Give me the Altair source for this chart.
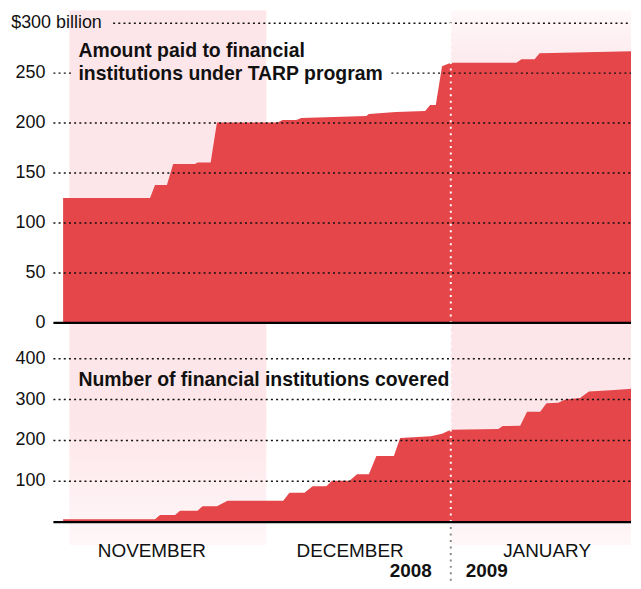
import altair as alt
import pandas as pd

# x values are days since 1 Nov 2008
amount_day = [-1.0, 12.9, 13.7, 15.6, 16.6, 20.1, 20.5, 22.6, 23.6, 33.3,
              34.1, 36.3, 37.1, 47.5, 47.9, 52.2, 56.9, 57.7, 58.6, 59.6,
              61.0, 71.5, 72.3, 74.4, 75.2, 91.1]
amount_bn = [125, 125, 138, 138, 159, 159, 160.5, 160.5, 200.5, 200.5,
             203, 203, 205, 207, 209, 211, 212, 218, 218, 257,
             260.5, 260.5, 264, 264, 270, 272]

count_day = [-1.0, 13.7, 14.5, 16.9, 17.7, 20.5, 21.3, 23.6, 25.3, 34.2,
             35.2, 37.6, 38.9, 41.1, 42.0, 44.8, 46.0, 47.9, 49.1, 51.9,
             52.9, 57.8, 59.6, 61.0, 68.6, 69.3, 72.1, 73.2, 75.3, 76.3,
             78.2, 79.3, 81.7, 82.2, 83.1, 86.6, 91.1]
count_n = [7, 7, 17, 17, 28, 28, 39, 39, 52, 52,
           72, 72, 88, 88, 101, 101, 117, 117, 162, 162,
           206, 210, 216, 226, 228, 235, 236, 270, 270, 291,
           292, 300, 304, 310, 320, 323, 328]

months = ["NOVEMBER", "DECEMBER", "JANUARY"]
month_start = [0, 31.5, 61]
month_end = [31.5, 61, 91.1]
month_label_day = [13.2, 44.9, 76.4]
years = ["2008", "2009"]

top_ticks = [0, 50, 100, 150, 200, 250]
bot_ticks = [100, 200, 300, 400]

FONT = "Liberation Sans"
RED = "#e4464a"
PINK = "#fde6ea"
W, H = 580, 573
XMIN = -2.55
XMAX = XMIN + W / 6.279
TOP_MAX = 313
BOT_MIN = -143.9

xs = alt.Scale(domain=[XMIN, XMAX], nice=False, zero=False)
# one view, two independent y scales (upper: billions, lower: institutions)
top_ys = alt.Scale(domain=[-258.2, TOP_MAX], nice=False, zero=False)
bot_ys = alt.Scale(domain=[BOT_MIN, 1253.65], nice=False, zero=False)
BOT_TOP = 487.8  # value at the top edge of the lower panel

dot = [2, 3.2]
GRID = dict(color="#111", strokeWidth=1.5, strokeDash=dot)


def X(f):
    return alt.X(f, type="quantitative", scale=xs, axis=None)


def Y(f, sc):
    return alt.Y(f, type="quantitative", scale=sc, axis=None)


def grad(stops):
    return alt.Gradient(gradient="linear",
                        stops=[alt.GradientStop(color=c, offset=o) for o, c in stops],
                        x1=0, x2=0, y1=0, y2=1)


def band(x0, x1, y0, y1, fill, sc):
    df = pd.DataFrame({"x0": [x0], "x1": [x1], "y0": [y0], "y1": [y1]})
    return alt.Chart(df).mark_rect(color=fill, clip=True).encode(
        x=X("x0"), x2="x1", y=Y("y0", sc), y2="y1")


def labels(vals, sc):
    df = pd.DataFrame({"x": [XMIN] * len(vals), "y": vals, "t": [str(v) for v in vals]})
    return alt.Chart(df).mark_text(align="right", baseline="middle", dx=-8, font=FONT,
                                   fontSize=18, color="#111").encode(
        x=X("x"), y=Y("y", sc), text="t")


# ---------------- upper panel ----------------
nov_top = band(month_start[0], month_end[0], 0, TOP_MAX, PINK, top_ys)
jan_top = band(month_start[2], month_end[2], 0, TOP_MAX,
               grad([(0, "#fff8f9"), (0.22, PINK), (1, PINK)]), top_ys)

area_top = alt.Chart(pd.DataFrame({"day": amount_day, "v": amount_bn})).mark_area(
    color=RED, interpolate="linear", clip=True).encode(x=X("day"), y=Y("v", top_ys))

tg = pd.DataFrame({
    "y": [50, 100, 150, 200, 250, 250, 300],
    "x0": [XMIN, XMIN, XMIN, XMIN, XMIN, 51.5, 7.0],
    "x1": [XMAX, XMAX, XMAX, XMAX, 0.5, XMAX, XMAX]})
grid_top = alt.Chart(tg).mark_rule(**GRID).encode(x=X("x0"), x2="x1", y=Y("y", top_ys))

vline_top = alt.Chart(pd.DataFrame({"x": [61], "y0": [0], "y1": [TOP_MAX]})).mark_rule(
    color="white", strokeWidth=2, strokeDash=[2, 4.5]).encode(
    x=X("x"), y=Y("y0", top_ys), y2="y1")

base_top = alt.Chart(pd.DataFrame({"x0": [XMIN], "x1": [XMAX], "y": [0]})).mark_rule(
    color="#000", strokeWidth=2.2).encode(x=X("x0"), x2="x1", y=Y("y", top_ys))

lbl300 = alt.Chart(pd.DataFrame({"x": [-9.3], "y": [300], "t": ["$300 billion"]})).mark_text(
    align="left", baseline="middle", font=FONT, fontSize=18, color="#111").encode(
    x=X("x"), y=Y("y", top_ys), text="t")

title_top = alt.Chart(pd.DataFrame({
    "x": [1.45, 1.45], "y": [266, 243.2],
    "t": ["Amount paid to financial", "institutions under TARP program"]})).mark_text(
    align="left", baseline="alphabetic", font=FONT, fontSize=19.5, fontWeight="bold",
    color="#111").encode(x=X("x"), y=Y("y", top_ys), text="t")

# ---------------- lower panel ----------------
band_grad = grad([(0, PINK), (0.45, PINK), (1, "#fff7f8")])
nov_bot = band(month_start[0], month_end[0], -56, BOT_TOP, band_grad, bot_ys)
jan_bot = band(month_start[2], month_end[2], -56, BOT_TOP, band_grad, bot_ys)

area_bot = alt.Chart(pd.DataFrame({"day": count_day, "v": count_n})).mark_area(
    color=RED, interpolate="linear", clip=True).encode(x=X("day"), y=Y("v", bot_ys))

bg = pd.DataFrame({"gy": bot_ticks, "gx0": [XMIN] * 4, "gx1": [XMAX] * 4})
grid_bot = alt.Chart(bg).mark_rule(**GRID).encode(x=X("gx0"), x2="gx1", y=Y("gy", bot_ys))

vline_bot = alt.Chart(pd.DataFrame({"x": [61], "y0": [0], "y1": [BOT_TOP]})).mark_rule(
    color="white", strokeWidth=2, strokeDash=[2, 4.5]).encode(
    x=X("x"), y=Y("y0", bot_ys), y2="y1")
vline_low = alt.Chart(pd.DataFrame({"x": [61], "y0": [BOT_MIN], "y1": [0]})).mark_rule(
    color="#8a8a8a", strokeWidth=2, strokeDash=[2, 4.5]).encode(
    x=X("x"), y=Y("y0", bot_ys), y2="y1")

base_bot = alt.Chart(pd.DataFrame({"x0": [XMIN], "x1": [XMAX], "y": [0]})).mark_rule(
    color="#000", strokeWidth=2.2).encode(x=X("x0"), x2="x1", y=Y("y", bot_ys))

title_bot = alt.Chart(pd.DataFrame({"x": [1.45], "y": [334],
                                    "t": ["Number of financial institutions covered"]})).mark_text(
    align="left", baseline="alphabetic", font=FONT, fontSize=19.5, fontWeight="bold",
    color="#111").encode(x=X("x"), y=Y("y", bot_ys), text="t")

month_txt = alt.Chart(pd.DataFrame({"x": month_label_day, "y": [-71] * 3, "t": months})).mark_text(
    align="center", baseline="middle", font=FONT, fontSize=19, color="#111").encode(
    x=X("x"), y=Y("y", bot_ys), text="t")

years_df = pd.DataFrame({"x": [61], "y": [-121]})
y08 = alt.Chart(years_df.assign(t=years[0])).mark_text(
    align="right", baseline="middle", dx=-19, font=FONT, fontSize=19, fontWeight="bold",
    color="#111").encode(x=X("x"), y=Y("y", bot_ys), text="t")
y09 = alt.Chart(years_df.assign(t=years[1])).mark_text(
    align="left", baseline="middle", dx=15, font=FONT, fontSize=19, fontWeight="bold",
    color="#111").encode(x=X("x"), y=Y("y", bot_ys), text="t")

chart = alt.layer(
    nov_top, jan_top, nov_bot, jan_bot,
    area_top, area_bot,
    grid_top, grid_bot,
    vline_top, vline_bot, vline_low,
    base_top, base_bot,
    labels(top_ticks, top_ys), labels(bot_ticks, bot_ys), lbl300,
    title_top, title_bot, month_txt, y08, y09,
).resolve_scale(y="independent").properties(
    width=W, height=H,
    padding={"left": 2.6, "top": 0, "right": 0, "bottom": 0},
    background="white",
).configure_view(stroke=None)

chart.save("out.html", embed_options={"renderer": "svg", "actions": False})
